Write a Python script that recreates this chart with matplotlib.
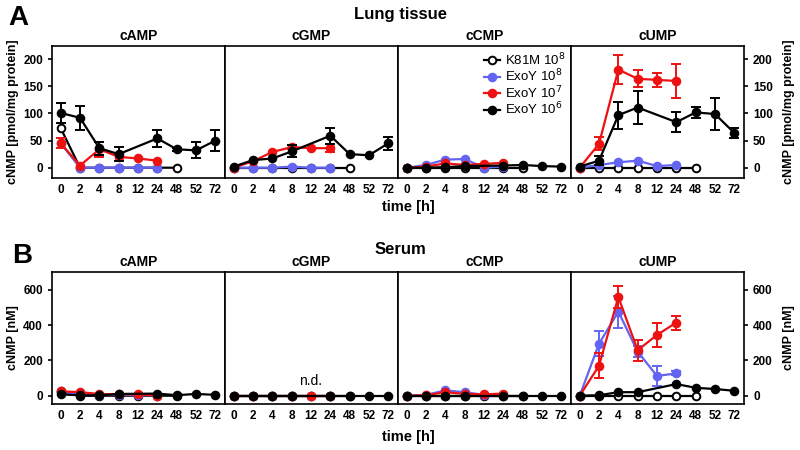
import numpy as np
import matplotlib.pyplot as plt

nan = np.nan

# x categories (time in h), equally spaced like the original
times = ['0', '2', '4', '8', '12', '24', '48', '52', '72']
panels = ['cAMP', 'cGMP', 'cCMP', 'cUMP']

# ---- Lung tissue [pmol/mg protein], rows = cAMP, cGMP, cCMP, cUMP
lung_k81m = [[73, 0, 0, 0, 0, 0, 0],
             [0, 0, 0, 0, 0, 0, 0],
             [0, 0, 0, 0, 0, 0, 0],
             [0, 0, 0, 0, 0, 0, 0]]
lung_exo8 = [[45, 0, 0, 0, 0, 0],
             [0, 0, 0, 2, 0, 0],
             [0, 5, 15, 16, 0, 2],
             [0, 5, 10, 13, 3, 5]]
lung_exo7 = [[45, 4, 34, 20, 17, 13],
             [0, 12, 29, 38, 36, 36],
             [0, 2, 8, 5, 7, 9],
             [0, 44, 181, 164, 162, 160]]
lung_exo7_err = [[9, nan, 14, nan, nan, nan],
                 [nan, nan, nan, 4, nan, 7],
                 [nan] * 6,
                 [nan, 12, 26, 16, 13, 31]]
lung_exo6 = [[101, 92, 36, 25, nan, 54, 34, 32, 50],
             [2, 14, 17, 30, nan, 59, 25, 23, 45],
             [0, 0, 1, 3, nan, 4, 5, 3, 2],
             [2, 13, 97, 111, nan, 84, 102, 99, 64]]
lung_exo6_err = [[19, 22, 12, 13, nan, 15, 3, 15, 19],
                 [nan, nan, nan, 11, nan, 15, nan, nan, 12],
                 [nan] * 9,
                 [nan, 8, 25, 30, nan, 18, 10, 29, 9]]

# ---- Serum [nM]
serum_k81m = [[25, 0, 0, 0, 0, 0, 0],
              [0, 0, 0, 0, 0, 0, 0],
              [0, 0, 0, 0, 0, 0, 0],
              [0, 0, 0, 0, 0, 0, 0]]
serum_exo8 = [[20, 10, 5, 5, 3, 3],
              [0, 0, 0, 0, 0, 0],
              [0, 5, 30, 20, 5, 5],
              [0, 295, 477, 250, 112, 127]]
serum_exo8_err = [[nan] * 6,
                  [nan] * 6,
                  [nan] * 6,
                  [nan, 72, 90, 30, 55, 12]]
serum_exo7 = [[25, 20, 10, 8, 8, 0],
              [0, 0, 0, 0, 0, 0],
              [0, 3, 20, 10, 8, 12],
              [0, 170, 560, 258, 345, 415]]
serum_exo7_err = [[nan] * 6,
                  [nan] * 6,
                  [nan] * 6,
                  [nan, 72, 60, 60, 68, 40]]
serum_exo6 = [[8, 2, 2, 10, nan, 12, 3, 10, 5],
              [0, 0, 0, 0, nan, 0, 0, 0, 0],
              [0, 0, 0, 0, nan, 0, 0, 0, 0],
              [0, 3, 20, 20, nan, 66, 45, 38, 28]]

blue = '#6464f2'
red = '#ee1111'

plt.rcParams['font.family'] = 'Liberation Sans'
fig = plt.figure(figsize=(8, 4.5), dpi=100)


def draw_series(ax, y, err, color, label, mfc):
    x = np.arange(len(y))
    y = np.array(y, dtype=float)
    ok = ~np.isnan(y)
    ax.plot(x[ok], y[ok], '-o', color=color, mfc=mfc, mec=color, ms=5.5,
            lw=1.6, mew=1.4, label=label, zorder=3)
    if err is not None:
        e = np.array(err, dtype=float)
        ax.errorbar(x[ok], y[ok], yerr=e[ok], fmt='none', ecolor=color,
                    elinewidth=1.4, capsize=3.5, capthick=1.4, zorder=3)


def draw_row(bottom, data, ylim, yticks, ylabel):
    k81m, exo8, exo8_err, exo7, exo7_err, exo6, exo6_err = data
    axes = []
    for i, name in enumerate(panels):
        ax = fig.add_axes([52 / 800 + i * 173 / 800, bottom, 173 / 800, 132 / 450])
        draw_series(ax, k81m[i], None, 'black', 'K81M 10$^8$', 'white')
        draw_series(ax, exo8[i], exo8_err[i] if exo8_err else None, blue, 'ExoY 10$^8$', blue)
        draw_series(ax, exo7[i], exo7_err[i] if exo7_err else None, red, 'ExoY 10$^7$', red)
        draw_series(ax, exo6[i], exo6_err[i] if exo6_err else None, 'black', 'ExoY 10$^6$', 'black')
        ax.set_xlim(-0.45, 8.5)
        ax.set_ylim(*ylim)
        ax.set_xticks(range(len(times)))
        ax.set_xticklabels(times, fontweight='bold', fontsize=8.5)
        ax.set_yticks(yticks)
        ax.tick_params(axis='x', length=0, pad=4)
        ax.tick_params(axis='y', length=3, width=1.2, labelsize=8.5)
        for s in ax.spines.values():
            s.set_linewidth(1.2)
        for t in ax.get_yticklabels():
            t.set_fontweight('bold')
        ax.set_title(name, fontweight='bold', fontsize=10, pad=4)
        if i == 0:
            ax.set_ylabel(ylabel, fontweight='bold', fontsize=9, labelpad=3)
        elif i == 3:
            ax.yaxis.tick_right()
            ax.yaxis.set_label_position('right')
            ax.set_ylabel(ylabel, fontweight='bold', fontsize=9, labelpad=7)
            for t in ax.get_yticklabels():
                t.set_fontweight('bold')
        else:
            ax.tick_params(axis='y', left=False, labelleft=False)
        axes.append(ax)
    return axes


lung_axes = draw_row(1 - 178 / 450,
                     (lung_k81m, lung_exo8, None, lung_exo7, lung_exo7_err, lung_exo6, lung_exo6_err),
                     (-19, 224.5), [0, 50, 100, 150, 200], 'cNMP [pmol/mg protein]')
serum_axes = draw_row(1 - 404 / 450,
                      (serum_k81m, serum_exo8, serum_exo8_err, serum_exo7, serum_exo7_err, serum_exo6, None),
                      (-47, 702), [0, 200, 400, 600], 'cNMP [nM]')

# legend in the lung cCMP panel
leg = lung_axes[2].legend(loc='upper right', frameon=False, fontsize=9.5,
                          handlelength=1.2, handletextpad=0.4, labelspacing=0.0,
                          borderaxespad=0.1, borderpad=0.3)

serum_axes[1].text(4, 45, 'n.d.', ha='center', va='bottom', fontsize=10)

fig.text(0.5, 1 - 15 / 450, 'Lung tissue', ha='center', va='center', fontweight='bold', fontsize=12)
fig.text(0.5, 1 - 249 / 450, 'Serum', ha='center', va='center', fontweight='bold', fontsize=12)
fig.text(18 / 800, 1 - 18 / 450, 'A', ha='center', va='center', fontweight='bold', fontsize=20)
fig.text(22 / 800, 1 - 256 / 450, 'B', ha='center', va='center', fontweight='bold', fontsize=20)
fig.text(408 / 800, 1 - 207 / 450, 'time [h]', ha='center', va='center', fontweight='bold', fontsize=10.5)
fig.text(408 / 800, 1 - 437 / 450, 'time [h]', ha='center', va='center', fontweight='bold', fontsize=10.5)

fig.savefig('out.png', dpi=100)
